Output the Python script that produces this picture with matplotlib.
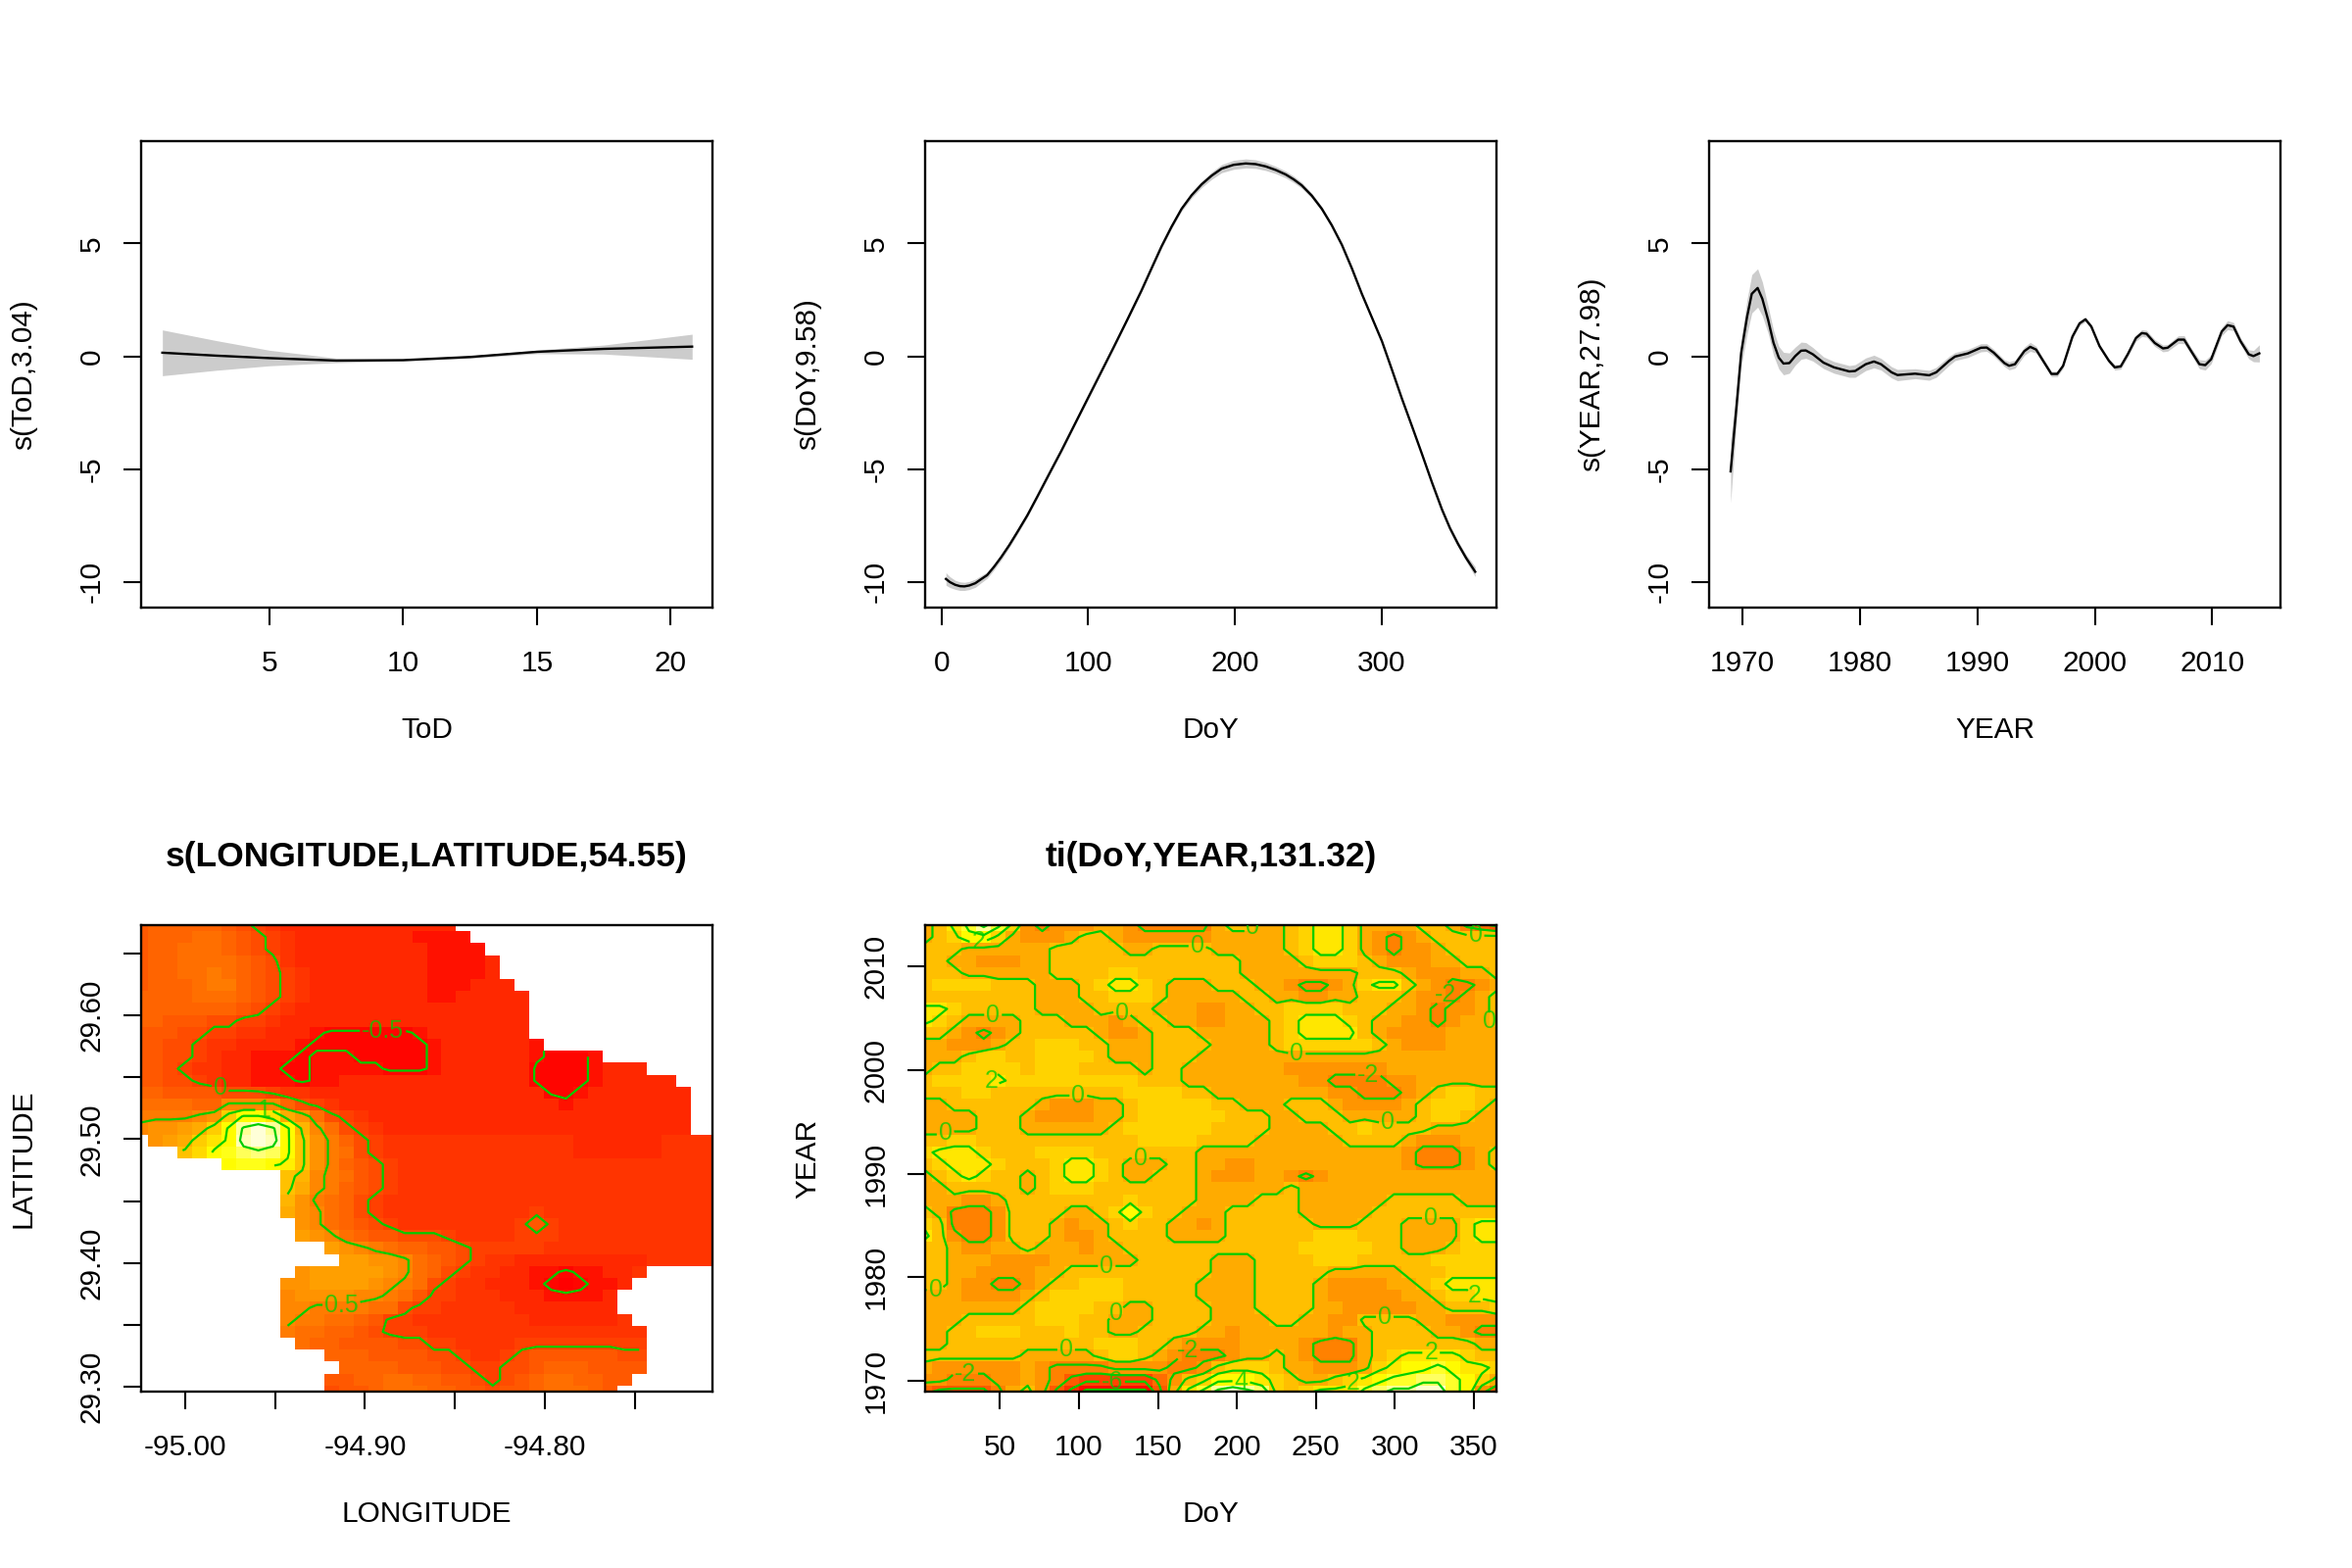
import numpy as np
import matplotlib
matplotlib.use("Agg")
import matplotlib.pyplot as plt
from matplotlib.colors import LinearSegmentedColormap

plt.rcParams["font.family"] = ["Liberation Sans", "DejaVu Sans"]
plt.rcParams["axes.unicode_minus"] = False

# smooth terms
tod_x = [1, 3, 5, 7.5, 10, 12.5, 15, 17.5, 20.8]
tod_fit = [0.16, 0.03, -0.08, -0.19, -0.17, -0.03, 0.2, 0.33, 0.43]
tod_hi = [1.17, 0.7, 0.27, -0.08, -0.14, 0.03, 0.28, 0.5, 0.98]
tod_lo = [-0.86, -0.62, -0.42, -0.28, -0.21, -0.09, 0.12, 0.1, -0.13]

doy_x = [3.0, 5.7, 9.3, 12.6, 15.6, 18.9, 23, 27, 31.1, 35.8, 40.7, 46.2, 51.6, 58.5, 65.3, 73.5, 81.7, 90.7, 99.7,
         108.5, 117.2, 126.8, 136.3, 143.2, 150, 156.8, 163.7, 170.5, 177.3, 184.2, 191, 199.2, 207.4, 214.2, 221,
         227.9, 234.7, 240.2, 245.6, 252.5, 259.3, 266.1, 273, 279.8, 286.6, 293.4, 300.3, 307.1, 313.9, 320.8,
         327.6, 334.4, 341.3, 346.7, 352.2, 357.7, 363.9]
doy_fit = [-9.87, -10.01, -10.13, -10.19, -10.2, -10.16, -10.06, -9.88, -9.7, -9.33, -8.9, -8.37, -7.8, -7.05, -6.22,
           -5.2, -4.19, -3.03, -1.87, -0.74, 0.38, 1.64, 2.91, 3.9, 4.87, 5.74, 6.54, 7.14, 7.62, 8.01, 8.32, 8.49,
           8.55, 8.52, 8.42, 8.26, 8.06, 7.84, 7.58, 7.12, 6.54, 5.81, 4.94, 3.9, 2.77, 1.73, 0.67, -0.59, -1.87,
           -3.1, -4.33, -5.59, -6.8, -7.62, -8.32, -8.94, -9.55]
doy_se = [0.28, 0.24, 0.2, 0.19, 0.18, 0.18, 0.18, 0.16, 0.14, 0.13, 0.12, 0.11, 0.1, 0.09, 0.08, 0.08, 0.07, 0.07,
          0.07, 0.07, 0.07, 0.07, 0.07, 0.07, 0.08, 0.09, 0.1, 0.12, 0.14, 0.16, 0.18, 0.2, 0.2, 0.19, 0.18, 0.16,
          0.15, 0.14, 0.13, 0.11, 0.1, 0.09, 0.08, 0.08, 0.07, 0.07, 0.07, 0.07, 0.07, 0.08, 0.08, 0.09, 0.09, 0.1,
          0.12, 0.15, 0.22]

year_x = [1969, 1969.46, 1969.9, 1970.4, 1970.8, 1971.3, 1971.7, 1972.2, 1972.65, 1973.1, 1973.5, 1974,
          1974.5, 1975, 1975.4, 1976, 1976.9, 1977.8, 1979.1, 1979.6, 1980.5, 1981.2, 1981.8, 1982.7,
          1983.2, 1984.7, 1985.9, 1986.5, 1987.6, 1988.1, 1989.2, 1990.3, 1990.8, 1991.4, 1992.3, 1992.7,
          1993.2, 1994, 1994.5, 1995, 1995.6, 1996.3, 1996.8, 1997.3, 1998.1, 1998.7, 1999.2, 1999.7,
          2000.4, 2001.2, 2001.7, 2002.2, 2002.8, 2003.5, 2004, 2004.4, 2005.1, 2005.8, 2006.2, 2007.1,
          2007.6, 2008.2, 2008.9, 2009.4, 2009.9, 2010.8, 2011.3, 2011.8, 2012.4, 2013.1, 2013.5, 2014]
year_fit = [-5.1, -2.45, 0.16, 1.75, 2.77, 3.03, 2.55, 1.6, 0.6, -0.06, -0.32, -0.3,
            0.01, 0.25, 0.26, 0.09, -0.28, -0.49, -0.67, -0.65, -0.35, -0.23, -0.35, -0.71,
            -0.83, -0.77, -0.84, -0.71, -0.2, -0.01, 0.13, 0.38, 0.39, 0.16, -0.3, -0.42,
            -0.35, 0.23, 0.42, 0.3, -0.2, -0.78, -0.78, -0.42, 0.88, 1.46, 1.64, 1.32,
            0.45, -0.2, -0.49, -0.45, 0.09, 0.81, 1.03, 1.0, 0.59, 0.35, 0.38, 0.74,
            0.74, 0.23, -0.35, -0.39, -0.13, 1.1, 1.38, 1.32, 0.67, 0.09, 0.01, 0.13]
year_se = [1.4, 0.7, 0.6, 0.75, 0.85, 0.85, 0.75, 0.6, 0.55, 0.5, 0.5, 0.45,
           0.4, 0.38, 0.35, 0.3, 0.26, 0.26, 0.26, 0.28, 0.28, 0.28, 0.26, 0.25,
           0.25, 0.22, 0.22, 0.22, 0.2, 0.18, 0.18, 0.18, 0.17, 0.15, 0.15, 0.18,
           0.18, 0.18, 0.2, 0.15, 0.12, 0.12, 0.12, 0.1, 0.1, 0.1, 0.1, 0.1,
           0.1, 0.1, 0.12, 0.12, 0.12, 0.14, 0.15, 0.15, 0.15, 0.15, 0.15, 0.17,
           0.18, 0.15, 0.2, 0.22, 0.2, 0.18, 0.2, 0.18, 0.15, 0.2, 0.25, 0.38]

# 40 x 40 surface, top row first. a-d = -0.75 to -0.45, e = -0.25, each letter up +0.1, then Z = 2.05 ... W = 2.35
# . = too far from data
geo_rows = [
    "ijjjjjihgf" + "e" * 12,
    "ijjjkkjihgf" + "eeeeeeeedddd",
    "ijjkkkjihgf" + "eeeeeeeeedddd",
    "ijjkkkkjihf" + "eeeeeeeeedddde",
    "ijjkklkjihg" + "feeeeeeeedddde",
    "ijjjklljihg" + "feeeeeeeedddeee",
    "jjjjkkkjihg" + "feeeeeeeeddeeeee",
    "jjjjjjjihgf" + "e" * 16,
    "jjiiihhggfe" + "e" * 16,
    "iiihhggffeeedccccccdeeeeeee",
    "iihhgffeeeedccccccccdeeeeeed",
    "iihhgfeedddcdddcccccdeeeeeedcccd",
    "iihgffeeddccdddddcccdeeeeeeccccdeee",
    "iihhgfeedddcddeeeeeeeeeeeeeccccdeeeee",
    "jjiiiihhhgff" + "e" * 16 + "ccdeeeeeee",
    "kkkkjjmmmmjhgf" + "e" * 15 + "d" + "e" * 8,
    "llllmnswwupnkhgf" + "e" * 22,
    "mnnopswYWYwqmkhgf" + "e" * 21,
    ".nopsuwXWXwrnljhgf" + "f" * 12 + "eeeeee" + "ffff",
    "...rtwxzZzwrnlkhgf" + "f" * 12 + "eeeeee" + "ffff",
    "......wxxwvrnljihg" + "f" * 22,
    ".........." + "rqmlkihg" + "f" * 22,
    ".........." + "rpmljihg" + "f" * 22,
    ".........." + "qnlkjhgf" + "f" * 22,
    ".........." + "pnmkjhgf" + "fffffffffg" + "f" * 12,
    "..........." + "nmkjihg" + "ffffffffgig" + "f" * 11,
    "..........." + "onmkjiihhhg" + "ffffgggfffffffffff",
    "............." + "onmlkjjiih" + "g" + "ggggffffffffffff",
    ".............." + "oonnmkjihg" + "ffeeeeeeeeefffff",
    "..........." + "nooooonmkjhgffeeddcddeef",
    ".........." + "nnoooonmlkhgffeeedcbcdde",
    ".........." + "mnnnnmmlkiggfffeeedddde",
    ".........." + "mmllllkkhggfffffeeeeeee",
    ".........." + "mllkkjigg" + "ffffffffeeeeeef",
    ".........." + "lkkjjihggg" + "f" * 15,
    "..........." + "kjjiiiihhggffffggggggggg",
    "............." + "jjjiiiihhgffghiiiiiihh",
    ".............." + "jjjjiiihhgghhijjjiiii",
    "............." + "iijjkkjjiihghijkkjjii",
    "............." + "hiijkkkjjiihiijkkkji",
]
geo_letters = "abcdefghijklmnopqrstuvwxyzZYXW"
geo_levels = [-0.5, 0, 0.5, 1, 1.5, 2]
geo_xticks = [-95.0, -94.95, -94.9, -94.85, -94.8, -94.75]
geo_xlabels = ["-95.00", "", "-94.90", "", "-94.80", ""]
geo_yticks = [29.3, 29.35, 29.4, 29.45, 29.5, 29.55, 29.6, 29.65]
geo_ylabels = ["29.30", "", "29.40", "", "29.50", "", "29.60", ""]
geo_labels = [(-94.89, 29.586), (-94.98, 29.543), (-94.913, 29.367), (-94.956, 29.524)]

# 40 x 40 surface, top row first. M = -0.5, N = 0.5, one unit per letter
ti_rows = [
    "MNPRTROLKL LLMMLKKKKK MNNMMNOPPO MMMMNNMKJI",
    "MNOQQOMLLL MNNMLLLLLL MMMMMNOPPO MLKLMNNNNN",
    "NNNMMMMMMN NNNNMMNNNN MMMMMNOPPO MLKLLMNNNN",
    "NNMMLLLMMN NNNNNNNNNN NNMMMMNOOO NMLLLMMNNN",
    "NNNMMMMMMN NNNOONNNNN NNMMMMMMMM NNNMLLLMMN",
    "NOOOONNNMM MNOPPONMMM NNNMMLKKLM OPPNMLKKLM",
    "NNNNNNNNMM MNNOOONMMM MMNNMMLLMM NNNMLLKLMN",
    "PPONNNNNMM MMNNNNMMML LMMNNOOOON NNMMLKLLMN",
    "PONMMMMNNN MMMLMNNMML LMMMNOPPPO NMMLLKLMMN",
    "NNMLKLMNNN NNMLLMNNNM MMMMNOPPPP NMLLLLMMMM",
    "MMLLLMNNOO ONNMMMNNNN MMMMNOOOOO ONMLLLMMMM",
    "MMMNOONNOO OONMMMNNNM MMMMMMMMMM MMMMMMMMMM",
    "MNNOOOONOO ONNNNMNNMM MMMMMLLLLL LLMMMMMMMM",
    "NOOOOPOOOO OOOOONNNMM MMMMMMLLKK KKLLMMMMMM",
    "NNNOONNNNN NNNNOOOONN MMMMMMMMLL KKKLMNOONN",
    "MMNNNNNNML LLMMNOOOOO NNMMMNNNML LLLMNOOONM",
    "MMMMNNNMLL LLMMNOOOOO ONNNMMNNNM MMMMNOONMM",
    "MMMMNNNMMM MMMNOOOOOO NNNNMMMMNN ONNNNMMMMM",
    "NNOONNNNNN NNNNNOOOON NNNMMMMMMN NNNMLLLMMM",
    "OPPPONNNOO OONNNNNNNM MMMMMMMMMM MMMLKKKLMN",
    "NOPPPONNNO PPONMMMNNM MLLMMMMMMM MMMLKKKLMN",
    "MNOPONNMNO PPONMMNNNM LLLMMLKLMM MMMMMMMMMM",
    "MMNNNNNMNO OONNNNNNNM MMMMMNMMMM MMMMMMMMMM",
    "MMMLLMNNNN NNNNONNNNM MMMNNNMMMM MMNNNNNMMM",
    "NMKKKLNNNN MMNOQONNMM MNNNNNMMMM MNNNNNNNNN",
    "ONKKKLNNNM LMMNONNMML MNNNNNNMMM NNNMMMMOPP",
    "PNLKKLNNNM LLMNNNNMMM MNNNNNNOOO NNNMMMMOPP",
    "NNMLLMMNMM MLMMNNNNNN NNNNNNOOOO ONNMMMNOOO",
    "NNMMMLLLLM MMMMMNNNNN MMMNNNNOOO NNNNNOOOOO",
    "NNMMLLLLMM NNNNNNNNNN MMMNNNNNMM MMMNNNOOOO",
    "NNMLLKKLMN NOOONNNNNM MMMNNNNMLL LLMMNOPPPP",
    "MMMLLLLMNO OOOONNNNNM MMMNNNNMLL LLLMMNOOPP",
    "MMMMMMMNOO OONNMMNNNN MMMNNNNMML LLLLMMNNNO",
    "MMMNNNNNOO ONNMMMNNNN MMMMNNMMLL NNNNMMLLLL",
    "MMNNOOONNN ONNMMNNNNM MLMMMMMMLM MNNNNMMLKK",
    "MMNNNNNNNN NNOOONNMLL LLMMMMLKKK MNNNNNNNMM",
    "NNNNNNNMMM MMNOONMLKK KLMMNMLKKK MNOPPPPONN",
    "MLLLLLLMLK KKKLLLLKKL NOOONMMLLL MOPQQRQPPO",
    "LLKKKLLMLK IHHHHHJLNO QQQPONMMNO PQRRSSRQOM",
    "JIIIIKMNLI GEEEEEIMPR TUTSONOPPP RSTTUURQLJ",
]
ti_levels = [-8, -6, -4, -2, 0, 2, 4, 6]
ti_xticks = [50, 100, 150, 200, 250, 300, 350]
ti_yticks = [1970, 1980, 1990, 2000, 2010]
ti_labels = [(175, 2011.8), (211.6, 2013.4), (351, 2012.6), (45.6, 2005.5), (126.5, 2004.9), (359.4, 2004.6),
             (238, 2001.6), (99.6, 1997.7), (295.6, 1995), (15.6, 1993.8), (139, 1991.6), (322.8, 1985.2),
             (117.6, 1981), (9.2, 1978.3), (293.7, 1976.1), (125, 1976.3), (91.9, 1973.3),
             (36.4, 2012.7), (41.4, 1998.9), (351, 1978.3), (323, 1973.1),
             (330.3, 2007.3), (283.2, 1999.2), (169.5, 1972.8), (28, 1970.2),
             (202.8, 1969.9), (274.8, 1969.6), (121, 1969.6)]

top_yticks = [-10, -5, 0, 5]
top_ylim = (-11.14, 9.54)
green3 = "#00CD00"
grey80 = "#CCCCCC"
heat = LinearSegmentedColormap.from_list("heat", [(0, "#FF0000"), (0.75, "#FFFF00"), (1, "#FFFFE6")])

FIG_W, FIG_H = 2400, 1600
AX_W, AX_H = 583, 476


def make_axes(fig, left, top):
    ax = fig.add_axes([left / FIG_W, 1 - (top + AX_H) / FIG_H, AX_W / FIG_W, AX_H / FIG_H])
    for s in ax.spines.values():
        s.set_linewidth(1.7)
    ax.tick_params(length=13, width=1.5, labelsize=21.4)
    ax.tick_params(axis="x", pad=18)
    ax.tick_params(axis="y", pad=13, labelrotation=90)
    return ax


def finish_axes(ax, xlabel, ylabel):
    for t in ax.get_yticklabels():
        t.set_va("center")
    ax.set_xlabel(xlabel, fontsize=21.4, va="center")
    ax.set_ylabel(ylabel, fontsize=21.4, va="center")
    ax.xaxis.set_label_coords(0.5, -125 / AX_H)
    ax.yaxis.set_label_coords(-120 / AX_W, 0.5)


def smooth_panel(fig, left, x, fit, hi, lo, xticks, xlim, xlabel, ylabel):
    ax = make_axes(fig, left, 144)
    ax.fill_between(x, lo, hi, color=grey80, lw=0)
    ax.plot(x, fit, color="black", lw=1.7)
    ax.set_xlim(xlim)
    ax.set_ylim(top_ylim)
    ax.set_xticks(xticks)
    ax.set_yticks(top_yticks)
    ax.set_yticklabels([str(v) for v in top_yticks])
    finish_axes(ax, xlabel, ylabel)
    return ax


def decode_geo():
    z = np.full((40, 40), np.nan)
    for r, row in enumerate(geo_rows):
        for c, ch in enumerate(row[:40]):
            if ch != ".":
                i = geo_letters.index(ch)
                z[r, c] = -0.75 + 0.1 * i if i < 4 else -0.65 + 0.1 * i
    return np.ma.masked_invalid(z[::-1])


def decode_ti():
    z = np.zeros((40, 40))
    for r, row in enumerate(ti_rows):
        for c, ch in enumerate(row.replace(" ", "")):
            z[r, c] = ord(ch) - ord("A") - 12.5
    return z[::-1]


def surface_panel(fig, left, z, xlim, ylim, vmin, vmax, levels, labels, title):
    ax = make_axes(fig, left, 944)
    x = np.linspace(xlim[0], xlim[1], 40)
    y = np.linspace(ylim[0], ylim[1], 40)
    ax.pcolormesh(x, y, z, shading="nearest", cmap=heat, vmin=vmin, vmax=vmax)
    cs = ax.contour(x, y, z, levels=levels, colors=green3, linewidths=1.6, linestyles="solid")
    ax.set_xlim(xlim)
    ax.set_ylim(ylim)
    for t in cs.clabel(manual=labels, fmt="%g", fontsize=18, inline=True, inline_spacing=2):
        t.set_rotation(0)
        t.set_alpha(0.75)
    ax.set_title(title, fontsize=25.5, fontweight="bold", y=1 + 60 / AX_H, pad=0)
    return ax


fig = plt.figure(figsize=(FIG_W / 100, FIG_H / 100), dpi=100, facecolor="white")

smooth_panel(fig, 144, tod_x, tod_fit, tod_hi, tod_lo, [5, 10, 15, 20], (0.206, 21.56), "ToD", "s(ToD,3.04)")

doy_hi = np.array(doy_fit) + np.array(doy_se)
doy_lo = np.array(doy_fit) - np.array(doy_se)
smooth_panel(fig, 944, doy_x, doy_fit, doy_hi, doy_lo, [0, 100, 200, 300], (-11.2, 378.4), "DoY", "s(DoY,9.58)")

year_hi = np.array(year_fit) + np.array(year_se)
year_lo = np.array(year_fit) - np.array(year_se)
smooth_panel(fig, 1744, year_x, year_fit, year_hi, year_lo, [1970, 1980, 1990, 2000, 2010], (1967.17, 2015.8),
             "YEAR", "s(YEAR,27.98)")

ax = surface_panel(fig, 144, decode_geo(), (-95.0243, -94.707), (29.296, 29.673), -0.6, 2.3, geo_levels, geo_labels,
                   "s(LONGITUDE,LATITUDE,54.55)")
ax.set_xticks(geo_xticks)
ax.set_xticklabels(geo_xlabels)
ax.set_yticks(geo_yticks)
ax.set_yticklabels(geo_ylabels)
finish_axes(ax, "LONGITUDE", "LATITUDE")

ax = surface_panel(fig, 944, decode_ti(), (2.6, 364.4), (1968.95, 2014.0), -9, 8, ti_levels, ti_labels,
                   "ti(DoY,YEAR,131.32)")
ax.set_xticks(ti_xticks)
ax.set_yticks(ti_yticks)
ax.set_yticklabels([str(v) for v in ti_yticks])
finish_axes(ax, "DoY", "YEAR")

fig.savefig("out.png", dpi=100)
